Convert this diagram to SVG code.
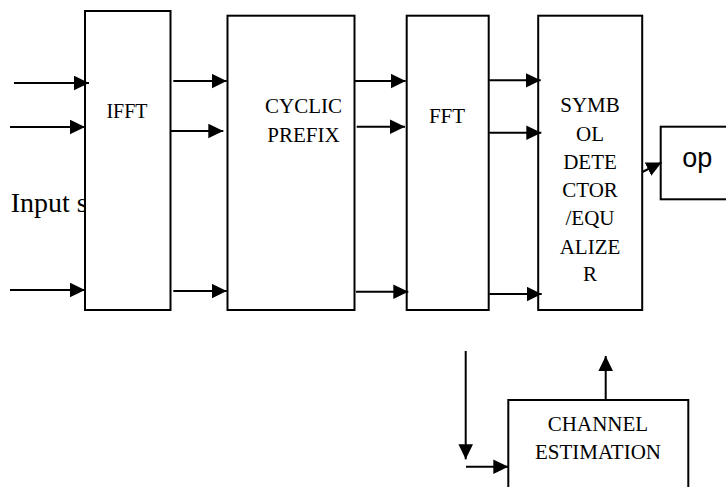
<svg xmlns="http://www.w3.org/2000/svg" width="726" height="487" viewBox="0 0 726 487">
<style>
.box{fill:#fff;stroke:#000;stroke-width:2}
.lbl{font-family:"Liberation Serif","Times New Roman",serif;font-size:21px;fill:#000;text-anchor:middle}
.ln{stroke:#000;stroke-width:2;fill:none;marker-end:url(#ah)}
</style>
<defs>
<marker id="ah" markerUnits="userSpaceOnUse" markerWidth="16" markerHeight="16" refX="15" refY="7.3" orient="auto">
<path d="M0,0 L15,7.3 L0,14.6 z" fill="#000"/>
</marker>
</defs>
<rect width="726" height="487" fill="#fff"/>
<text x="10.7" y="211.7" font-family="Liberation Serif, Times New Roman, serif" font-size="28">Input s</text>
<g id="ifft"><rect class="box" x="85" y="11" width="85.5" height="299"/><text class="lbl" x="127" y="118.3" font-size="20" style="font-size:20px">IFFT</text></g>
<g id="cyclic"><rect class="box" x="227.5" y="15.7" width="127" height="294.3"/><text class="lbl" x="303.5" y="112.7">CYCLIC</text><text class="lbl" x="303.5" y="141.7">PREFIX</text></g>
<g id="fft"><rect class="box" x="406.7" y="15.7" width="82" height="294.3"/><text class="lbl" x="447" y="122.7">FFT</text></g>
<g id="symbol"><rect class="box" x="538.2" y="15.7" width="104" height="294.3"/>
<text class="lbl" x="590" y="111.7">SYMB</text><text class="lbl" x="590" y="141">OL</text><text class="lbl" x="590" y="169">DETE</text><text class="lbl" x="590" y="196.7">CTOR</text><text class="lbl" x="590" y="225.3">/EQU</text><text class="lbl" x="590" y="254">ALIZE</text><text class="lbl" x="590" y="281">R</text></g>
<g id="op"><rect class="box" x="660.7" y="126.7" width="80" height="72.6"/><text x="682.3" y="166.5" font-family="Liberation Sans, Arial, sans-serif" font-size="27">op</text></g>
<g id="channel"><rect class="box" x="508.3" y="400" width="180" height="110"/><text class="lbl" x="598" y="431">CHANNEL</text><text class="lbl" x="598" y="459.3">ESTIMATION</text></g>
<g id="connectors">
<line class="ln" x1="14" y1="83" x2="89" y2="83"/>
<line class="ln" x1="10" y1="127" x2="85" y2="127"/>
<line class="ln" x1="10" y1="290" x2="85" y2="290"/>
<line class="ln" x1="173.3" y1="81" x2="226.7" y2="81"/>
<line class="ln" x1="170.7" y1="131" x2="223.3" y2="131"/>
<line class="ln" x1="173.3" y1="291" x2="226.7" y2="291"/>
<line class="ln" x1="354.7" y1="81" x2="405.7" y2="81"/>
<line class="ln" x1="356.7" y1="126.7" x2="405" y2="126.7"/>
<line class="ln" x1="356" y1="291.7" x2="408.3" y2="291.7"/>
<line class="ln" x1="489.3" y1="80.3" x2="540.7" y2="80.3"/>
<line class="ln" x1="489.3" y1="132.7" x2="541.3" y2="132.7"/>
<line class="ln" x1="489.3" y1="294" x2="541.7" y2="294"/>
<line class="ln" x1="642.3" y1="172" x2="661.5" y2="162.5"/>
<line class="ln" x1="605.7" y1="400" x2="605.7" y2="356"/>
<line class="ln" x1="465.7" y1="351" x2="465.7" y2="459.3"/>
<line class="ln" x1="466" y1="466.7" x2="508.3" y2="466.7"/>
</g>
</svg>
